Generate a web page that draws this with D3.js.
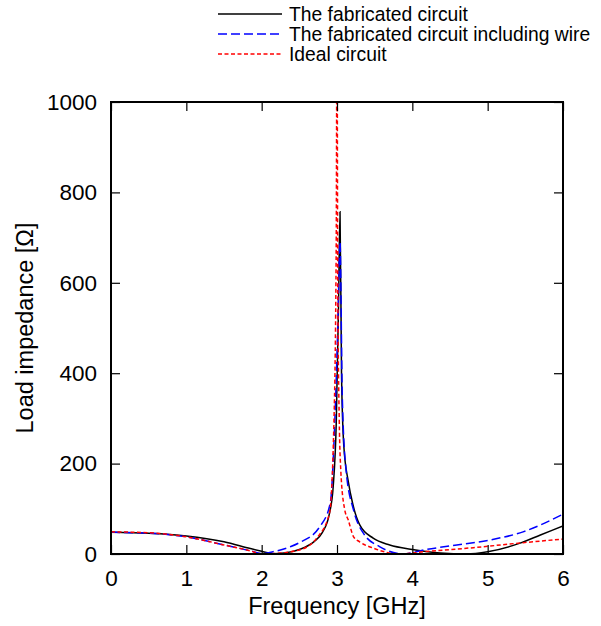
<!DOCTYPE html>
<html>
<head>
<meta charset="utf-8">
<script src="https://cdn.jsdelivr.net/npm/d3@7/dist/d3.min.js"></script>
<style>
  html, body { margin: 0; padding: 0; background: #fff; }
  text { font-family: "Liberation Sans", Arial, sans-serif; fill: #000; }
</style>
</head>
<body>
<svg id="chart" width="601" height="626"></svg>
<script>
// ---- data (frequency in GHz, load impedance in ohm) ----
const seriesNames = ["The fabricated circuit", "The fabricated circuit including wire", "Ideal circuit"];
const xTicks = [0, 1, 2, 3, 4, 5, 6];
const yTicks = [0, 200, 400, 600, 800, 1000];

const fabricatedF = [0, 0.5, 1.0, 1.5, 1.85, 2.0, 2.15, 2.3, 2.5, 2.7, 2.8, 2.9, 2.95, 2.99, 3.02, 3.04, 3.06, 3.09, 3.15, 3.21, 3.3, 3.48, 3.7, 4.0, 4.37, 4.72, 5.0, 5.43, 5.7, 6.0];
const fabricatedZ = [48, 46, 40, 27, 12, 6, 0.5, 2, 10, 28, 46, 90, 150, 290, 550, 757, 400, 240, 160, 110, 65, 35, 20, 10, 2, 0, 5, 24, 42, 62];

const wireF = [0, 0.5, 1.0, 1.5, 1.85, 2.0, 2.15, 2.38, 2.5, 2.77, 2.91, 2.97, 3.01, 3.04, 3.07, 3.12, 3.22, 3.35, 3.57, 3.88, 4.15, 4.59, 5.03, 5.47, 6.0];
const wireZ = [48, 46, 38, 20, 7, 1, 5, 16, 25, 60, 112, 290, 500, 690, 350, 186, 97, 46, 16, 0, 9, 20, 31, 49, 88];

const idealF = [0, 0.5, 1.0, 1.5, 1.85, 2.0, 2.15, 2.5, 2.73, 2.9, 2.96, 2.99, 3.0, 3.01, 3.03, 3.05, 3.1, 3.15, 3.22, 3.3, 3.48, 3.84, 4.15, 4.81, 5.47, 6.0];
const idealZ = [49, 47, 38, 20, 7, 0, 1, 9, 35, 90, 296, 700, 1200, 600, 296, 186, 100, 75, 38, 27, 13, 0, 5, 14, 25, 33];

// ---- layout ----
const svg = d3.select("#chart");
const L = 111, R = 563, T = 102, B = 554;
const x = d3.scaleLinear().domain([0, 6]).range([L, R]);
const y = d3.scaleLinear().domain([0, 1000]).range([B, T]);
const FS_TICK = 22.5, FS_TITLE = 23.5, FS_LEG = 19.3;

svg.append("defs").append("clipPath").attr("id", "plotclip")
  .append("rect").attr("x", L).attr("y", T).attr("width", R - L).attr("height", B - T);

const styles = [
  { color: "#000", dash: null },
  { color: "#0000ff", dash: "9,4" },
  { color: "#ff0000", dash: "4,2.5" }
];
const series = [
  { f: fabricatedF, z: fabricatedZ },
  { f: wireF, z: wireZ },
  { f: idealF, z: idealZ }
];

const line = d3.line().x(d => x(d[0])).y(d => y(d[1])).curve(d3.curveMonotoneX);

const g = svg.append("g").attr("clip-path", "url(#plotclip)");
series.forEach((s, i) => {
  const pts = s.f.map((f, k) => [f, s.z[k]]);
  g.append("path").datum(pts)
    .attr("d", line)
    .attr("fill", "none")
    .attr("stroke", styles[i].color)
    .attr("stroke-width", 1.5)
    .attr("stroke-dasharray", styles[i].dash);
});

// ---- axes (inward ticks, mirrored) ----
const tickLen = 9;
const axB = svg.append("g").attr("transform", `translate(0,${B})`)
  .call(d3.axisBottom(x).tickValues(xTicks).tickSizeInner(-tickLen).tickSizeOuter(0).tickPadding(tickLen + 7).tickFormat(d3.format("d")));
const axT = svg.append("g").attr("transform", `translate(0,${T})`)
  .call(d3.axisTop(x).tickValues(xTicks).tickSizeInner(-tickLen).tickSizeOuter(0).tickFormat(""));
const axLft = svg.append("g").attr("transform", `translate(${L},0)`)
  .call(d3.axisLeft(y).tickValues(yTicks).tickSizeInner(-tickLen).tickSizeOuter(0).tickPadding(tickLen + 5).tickFormat(d3.format("d")));
const axRgt = svg.append("g").attr("transform", `translate(${R},0)`)
  .call(d3.axisRight(y).tickValues(yTicks).tickSizeInner(-tickLen).tickSizeOuter(0).tickFormat(""));

[axB, axT, axLft, axRgt].forEach(a => {
  a.select(".domain").remove();
  a.selectAll(".tick line").attr("stroke", "#000").attr("stroke-width", 1.2);
  a.selectAll("text").attr("font-size", FS_TICK).attr("font-family", "Liberation Sans, Arial, sans-serif").attr("fill", "#000");
});

// frame
svg.append("rect").attr("x", L).attr("y", T).attr("width", R - L).attr("height", B - T)
  .attr("fill", "none").attr("stroke", "#000").attr("stroke-width", 2);

// axis titles
svg.append("text").attr("x", (L + R) / 2).attr("y", 614)
  .attr("text-anchor", "middle").attr("font-size", FS_TITLE).text("Frequency [GHz]");
svg.append("text")
  .attr("transform", `translate(33,${(T + B) / 2}) rotate(-90)`)
  .attr("text-anchor", "middle").attr("font-size", FS_TITLE).text("Load impedance [Ω]");

// legend
const legY = [14, 34, 54];
seriesNames.forEach((name, i) => {
  svg.append("line").attr("x1", 218).attr("x2", 282).attr("y1", legY[i]).attr("y2", legY[i])
    .attr("stroke", styles[i].color).attr("stroke-width", 1.5)
    .attr("stroke-dasharray", styles[i].dash);
  svg.append("text").attr("x", 289).attr("y", legY[i]).attr("dy", "0.35em")
    .attr("font-size", FS_LEG).text(name);
});
</script>
</body>
</html>
